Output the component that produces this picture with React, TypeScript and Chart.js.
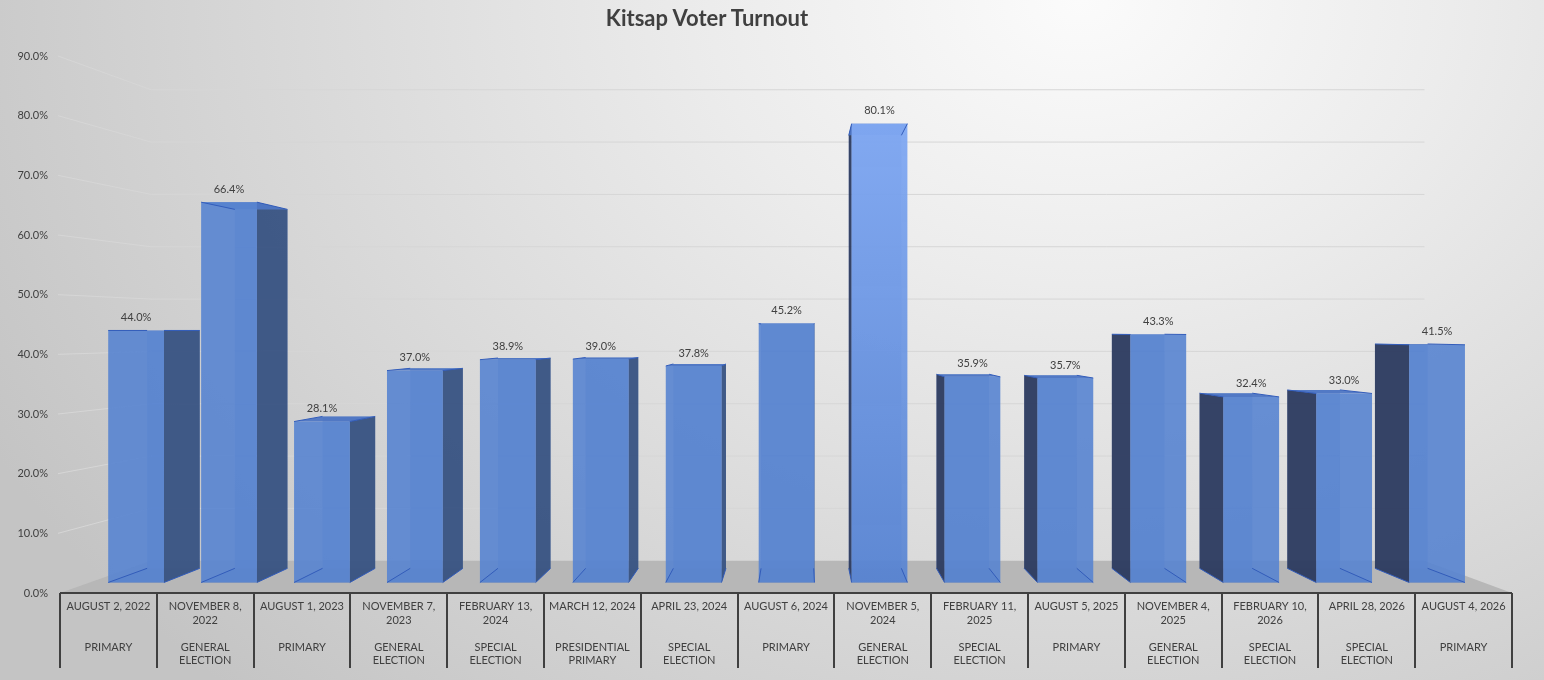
import { useEffect, useRef } from 'react';
import { Chart, registerables } from 'chart.js';

Chart.register(...registerables);

// election dates, as they wrap in the category box
const electionDates: string[][] = [
  ['AUGUST 2, 2022'],
  ['NOVEMBER 8,', '2022'],
  ['AUGUST 1, 2023'],
  ['NOVEMBER 7,', '2023'],
  ['FEBRUARY 13,', '2024'],
  ['MARCH 12, 2024'],
  ['APRIL 23, 2024'],
  ['AUGUST 6, 2024'],
  ['NOVEMBER 5,', '2024'],
  ['FEBRUARY 11,', '2025'],
  ['AUGUST 5, 2025'],
  ['NOVEMBER 4,', '2025'],
  ['FEBRUARY 10,', '2026'],
  ['APRIL 28, 2026'],
  ['AUGUST 4, 2026'],
];

const electionTypes: string[][] = [
  ['PRIMARY'],
  ['GENERAL', 'ELECTION'],
  ['PRIMARY'],
  ['GENERAL', 'ELECTION'],
  ['SPECIAL', 'ELECTION'],
  ['PRESIDENTIAL', 'PRIMARY'],
  ['SPECIAL', 'ELECTION'],
  ['PRIMARY'],
  ['GENERAL', 'ELECTION'],
  ['SPECIAL', 'ELECTION'],
  ['PRIMARY'],
  ['GENERAL', 'ELECTION'],
  ['SPECIAL', 'ELECTION'],
  ['SPECIAL', 'ELECTION'],
  ['PRIMARY'],
];

// turnout, percent
const turnout = [44.0, 66.4, 28.1, 37.0, 38.9, 39.0, 37.8, 45.2, 80.1, 35.9, 35.7, 43.3, 32.4, 33.0, 41.5];

const yTickValues = [0, 10, 20, 30, 40, 50, 60, 70, 80, 90];

const FONT = 'Lato, "Open Sans", sans-serif';

// 3d look: planes scaled towards a vanishing point
const DEPTH_FRONT = 0.96;
const DEPTH_BACK = 0.906;
const DEPTH_WALL = 0.877;

type Pt = [number, number];

function viewPoint(chart: Chart) {
  const ca = chart.chartArea;
  const y = chart.scales.y;
  return { vx: ca.left + (ca.right - ca.left) * 0.51, vy: y.getPixelForValue(44) };
}

function poly(ctx: CanvasRenderingContext2D, pts: Pt[], fill?: string | CanvasGradient, stroke?: string) {
  ctx.beginPath();
  ctx.moveTo(pts[0][0], pts[0][1]);
  for (let i = 1; i < pts.length; i++) ctx.lineTo(pts[i][0], pts[i][1]);
  ctx.closePath();
  if (fill) {
    ctx.fillStyle = fill;
    ctx.fill();
  }
  if (stroke) {
    ctx.strokeStyle = stroke;
    ctx.stroke();
  }
}

function line(ctx: CanvasRenderingContext2D, a: Pt, b: Pt) {
  ctx.beginPath();
  ctx.moveTo(a[0], a[1]);
  ctx.lineTo(b[0], b[1]);
  ctx.stroke();
}

const boxes3d = {
  id: 'boxes3d',
  beforeDatasetsDraw(chart: Chart) {
    const { ctx, chartArea: ca } = chart;
    const y = chart.scales.y;
    const { vx, vy } = viewPoint(chart);
    const p = (px: number, py: number, s: number): Pt => [vx + (px - vx) * s, vy + (py - vy) * s];

    ctx.save();
    // back wall grid + left wall lines
    ctx.lineWidth = 1;
    ctx.strokeStyle = '#d6d6d6';
    yTickValues.forEach((v) => {
      if (v === 0) return;
      const py = y.getPixelForValue(v);
      const wl = p(ca.left, py, DEPTH_WALL);
      const wr = p(ca.right, py, DEPTH_WALL);
      line(ctx, [ca.left - 2, py], wl);
      line(ctx, wl, wr);
    });

    // floor
    const base = y.getPixelForValue(0);
    poly(ctx, [[ca.left, base], [ca.right, base], p(ca.right, base, DEPTH_WALL), p(ca.left, base, DEPTH_WALL)], '#b7b7b7');

    // boxes
    const meta = chart.getDatasetMeta(0);
    const maxIdx = turnout.indexOf(Math.max(...turnout));
    meta.data.forEach((el: any, i: number) => {
      const { x, y: top, base: bot, width } = el.getProps(['x', 'y', 'base', 'width'], true);
      const l = x - width / 2;
      const r = x + width / 2;
      const f = [p(l, top, DEPTH_FRONT), p(r, top, DEPTH_FRONT), p(r, bot, DEPTH_FRONT), p(l, bot, DEPTH_FRONT)];
      const b = [p(l, top, DEPTH_BACK), p(r, top, DEPTH_BACK), p(r, bot, DEPTH_BACK), p(l, bot, DEPTH_BACK)];
      const leftOfCentre = x < vx;

      poly(ctx, b, 'rgba(72,114,196,0.45)');
      poly(ctx, [f[3], f[2], b[2], b[3]], 'rgba(60,95,170,0.5)');
      if (leftOfCentre) {
        poly(ctx, [f[1], b[1], b[2], f[2]], 'rgba(56,82,128,0.92)');
      } else {
        poly(ctx, [f[0], b[0], b[3], f[3]], 'rgba(44,58,92,0.92)');
      }
      poly(ctx, [f[0], f[1], b[1], b[0]], 'rgba(78,118,196,0.95)');

      let frontFill: string | CanvasGradient = 'rgba(88,132,208,0.9)';
      if (i === maxIdx) {
        const g = ctx.createLinearGradient(0, f[0][1], 0, f[3][1]);
        g.addColorStop(0, 'rgba(128,168,242,0.95)');
        g.addColorStop(1, 'rgba(88,132,210,0.92)');
        frontFill = g;
      }
      poly(ctx, f, frontFill);

      // edges seen through the glass
      ctx.lineWidth = 1;
      ctx.strokeStyle = 'rgba(50,92,186,1)';
      poly(ctx, b);
      ctx.beginPath();
      for (let k = 0; k < 4; k++) {
        ctx.moveTo(f[k][0], f[k][1]);
        ctx.lineTo(b[k][0], b[k][1]);
      }
      ctx.stroke();
      ctx.strokeStyle = 'rgba(40,72,150,0.95)';
      poly(ctx, f);
    });
    ctx.restore();
  },
  afterDatasetsDraw(chart: Chart) {
    const { ctx, chartArea: ca } = chart;
    const x = chart.scales.x;
    const { vx, vy } = viewPoint(chart);
    const p = (px: number, py: number, s: number): Pt => [vx + (px - vx) * s, vy + (py - vy) * s];
    const meta = chart.getDatasetMeta(0);

    ctx.save();
    ctx.font = `11px ${FONT}`;
    ctx.fillStyle = '#404040';
    ctx.textAlign = 'center';
    ctx.textBaseline = 'middle';
    meta.data.forEach((el: any, i: number) => {
      const { x: cx, y: top } = el.getProps(['x', 'y'], true);
      const t = p(cx, top, DEPTH_FRONT);
      ctx.fillText(turnout[i].toFixed(1) + '%', t[0], t[1] - 13);
    });

    // axis line and category dividers
    ctx.strokeStyle = '#404040';
    ctx.lineWidth = 2;
    line(ctx, [ca.left, ca.bottom], [ca.right, ca.bottom]);
    const n = electionDates.length;
    const step = (x.right - x.left) / n;
    for (let k = 0; k <= n; k++) {
      const dx = Math.round(x.left + k * step);
      line(ctx, [dx, ca.bottom], [dx, ca.bottom + 75]);
    }
    ctx.restore();
  },
};

const categoryLabels = electionDates.map((d, i) => [
  d[0],
  d[1] ?? '',
  '',
  electionTypes[i][0],
  electionTypes[i][1] ?? '',
]);

function TurnoutChart() {
  const chartRef = useRef<HTMLCanvasElement>(null);
  const chartInstance = useRef<Chart | null>(null);

  useEffect(() => {
    if (!chartRef.current) return;
    if (chartInstance.current) chartInstance.current.destroy();
    const ctx = chartRef.current.getContext('2d');
    if (!ctx) return;

    chartInstance.current = new Chart(ctx, {
      type: 'bar',
      data: {
        labels: categoryLabels,
        datasets: [
          {
            label: 'Turnout',
            data: turnout,
            backgroundColor: 'rgba(0,0,0,0)',
            borderWidth: 0,
            barPercentage: 0.6,
            categoryPercentage: 1,
          },
        ],
      },
      plugins: [boxes3d],
      options: {
        responsive: true,
        maintainAspectRatio: false,
        animation: false,
        events: [],
        layout: { padding: { top: 56, right: 32, bottom: 0, left: 0 } },
        plugins: {
          legend: { display: false },
          title: { display: false },
          tooltip: { enabled: false },
        },
        scales: {
          x: {
            grid: { display: false, drawTicks: false },
            border: { display: false },
            ticks: {
              autoSkip: false,
              maxRotation: 0,
              minRotation: 0,
              padding: 7,
              color: '#404040',
              font: { family: FONT, size: 11, lineHeight: 1.23 },
            },
            afterFit: (scale: any) => {
              scale.height = 87;
            },
          },
          y: {
            min: 0,
            max: 90,
            grid: { display: false, drawTicks: false },
            border: { display: false },
            afterBuildTicks: (scale: any) => {
              scale.ticks = yTickValues.map((v) => ({ value: v }));
            },
            ticks: {
              padding: 12,
              color: '#404040',
              font: { family: FONT, size: 11 },
              callback: (v: any) => Number(v).toFixed(1) + '%',
            },
            afterFit: (scale: any) => {
              scale.width = 60;
            },
          },
        },
      },
    });

    return () => {
      if (chartInstance.current) {
        chartInstance.current.destroy();
        chartInstance.current = null;
      }
    };
  }, []);

  return <canvas ref={chartRef} />;
}

export default function App() {
  return (
    <div
      style={{
        position: 'fixed',
        left: 0,
        top: 0,
        width: 1544,
        height: 680,
        background:
          'radial-gradient(ellipse 80% 140% at 70% 0%, #fbfbfb 0%, #ececec 30%, #d8d8d8 65%, #c4c4c4 100%)',
      }}
    >
      <div
        style={{
          position: 'absolute',
          left: 0,
          top: 4,
          width: 1414,
          textAlign: 'center',
          font: `bold 22px ${FONT}`,
          lineHeight: '28px',
          color: '#404040',
        }}
      >
        Kitsap Voter Turnout
      </div>
      <div style={{ position: 'absolute', inset: 0 }}>
        <TurnoutChart />
      </div>
    </div>
  );
}
